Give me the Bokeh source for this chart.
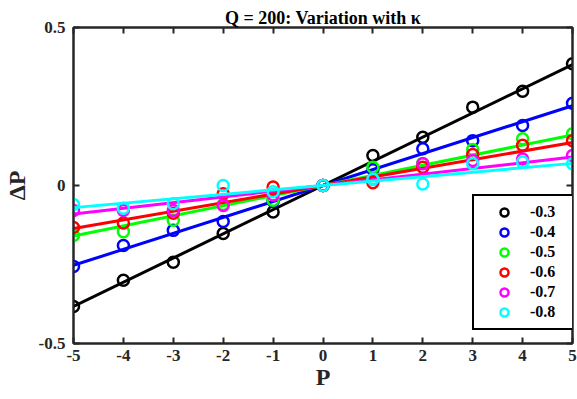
from bokeh.plotting import figure
from bokeh.models import Range1d, LinearAxis, FixedTicker, Legend, LegendItem
from bokeh.embed import file_html
from bokeh.resources import INLINE

# ---- data ----
P = [-5, -4, -3, -2, -1, 0, 1, 2, 3, 4, 5]
kappa_labels = ["-0.3", "-0.4", "-0.5", "-0.6", "-0.7", "-0.8"]
colors = ["#000000", "#0000FF", "#00FF00", "#FF0000", "#FF00FF", "#00FFFF"]

dP_03 = [-0.383, -0.300, -0.243, -0.152, -0.084, 0.0, 0.095, 0.153, 0.248, 0.298, 0.385]
dP_04 = [-0.256, -0.190, -0.142, -0.114, -0.050, 0.0, 0.050, 0.116, 0.142, 0.190, 0.260]
dP_05 = [-0.158, -0.146, -0.110, -0.060, -0.047, 0.0, 0.058, 0.070, 0.114, 0.148, 0.164]
dP_06 = [-0.133, -0.119, -0.088, -0.026, -0.005, 0.0, 0.009, 0.058, 0.098, 0.127, 0.142]
dP_07 = [-0.079, -0.079, -0.079, -0.063, -0.030, 0.0, 0.020, 0.069, 0.079, 0.084, 0.095]
dP_08 = [-0.060, -0.072, -0.058, 0.000, -0.020, 0.0, 0.020, 0.005, 0.069, 0.074, 0.069]
series = [dP_03, dP_04, dP_05, dP_06, dP_07, dP_08]

# fitted slopes of the straight lines
fit_slopes = [0.0765, 0.0505, 0.032, 0.0272, 0.018, 0.014]
fit_x = [-5, 5]

x_ticks = [-5, -4, -3, -2, -1, 0, 1, 2, 3, 4, 5]
x_tick_labels = ["-5", "-4", "-3", "-2", "-1", "0", "1", "2", "3", "4", "5"]
y_ticks = [-0.5, 0, 0.5]
y_tick_labels = ["-0.5", "0", "0.5"]
title_text = "Q = 200: Variation with κ"

FONT = "Liberation Serif"
AX = "#262626"

p = figure(width=577, height=399, output_backend="svg", toolbar_location=None,
           x_range=Range1d(-5, 5), y_range=Range1d(-0.5, 0.5),
           min_border_left=72, min_border_right=5, min_border_top=27, min_border_bottom=56,
           x_axis_label="P", y_axis_label="ΔP", title=title_text)
p.grid.visible = False
p.outline_line_color = AX
p.outline_line_width = 2
p.background_fill_color = "white"
p.border_fill_color = "white"

p.title.text_font = FONT
p.title.text_font_style = "bold"
p.title.text_font_size = "18px"
p.title.text_color = "#000000"
p.title.align = "center"
p.title.standoff = 0
p.title.offset = -3

p.xaxis.ticker = FixedTicker(ticks=x_ticks)
p.xaxis.major_label_overrides = {t: l for t, l in zip(x_ticks, x_tick_labels)}
p.yaxis.ticker = FixedTicker(ticks=y_ticks)
p.yaxis.major_label_overrides = {t: l for t, l in zip(y_ticks, y_tick_labels)}

for ax in [p.xaxis[0], p.yaxis[0]]:
    ax.axis_line_color = AX
    ax.axis_line_width = 2
    ax.major_tick_in = 6
    ax.major_tick_out = 0
    ax.major_tick_line_color = AX
    ax.major_tick_line_width = 2
    ax.minor_tick_line_color = None
    ax.major_label_text_font = FONT
    ax.major_label_text_font_style = "bold"
    ax.major_label_text_font_size = "17px"
    ax.major_label_text_color = AX
    ax.axis_label_text_font = FONT
    ax.axis_label_text_font_style = "bold"
    ax.axis_label_text_font_size = "24px"
    ax.axis_label_text_color = AX
p.xaxis.major_label_standoff = 6
p.xaxis.axis_label_standoff = 0
p.yaxis.major_label_standoff = 8
p.yaxis.axis_label_standoff = 6

for loc, ticks in [("above", x_ticks), ("right", y_ticks)]:
    a = LinearAxis(ticker=FixedTicker(ticks=ticks))
    a.axis_line_color = AX
    a.axis_line_width = 2
    a.major_tick_in = 6
    a.major_tick_out = 0
    a.major_tick_line_color = AX
    a.major_tick_line_width = 2
    a.minor_tick_line_color = None
    a.major_label_overrides = {t: "" for t in ticks}
    a.major_label_text_font_size = "1px"
    a.major_label_standoff = 0
    p.add_layout(a, loc)

items = []
for s, c, lab, k in zip(series, colors, kappa_labels, fit_slopes):
    p.line(fit_x, [k * xv for xv in fit_x], line_color=c, line_width=3)
    r = p.scatter(P, s, marker="circle", size=11, fill_color=None, line_color=c, line_width=2.5)
    items.append(LegendItem(label=lab, renderers=[r]))

legend = Legend(items=items, location=(399, 13))
legend.border_line_color = "#000000"
legend.border_line_alpha = 1
legend.border_line_width = 2.5
legend.background_fill_color = "white"
legend.background_fill_alpha = 1
legend.label_text_font = FONT
legend.label_text_font_style = "bold"
legend.label_text_font_size = "16px"
legend.label_text_color = "#000000"
legend.glyph_width = 48
legend.glyph_height = 20
legend.label_height = 20
legend.label_width = 36
legend.spacing = 0
legend.padding = 6
legend.margin = 0
legend.label_standoff = 2
p.add_layout(legend, "center")

open("out.html", "w").write(file_html(p, INLINE))
